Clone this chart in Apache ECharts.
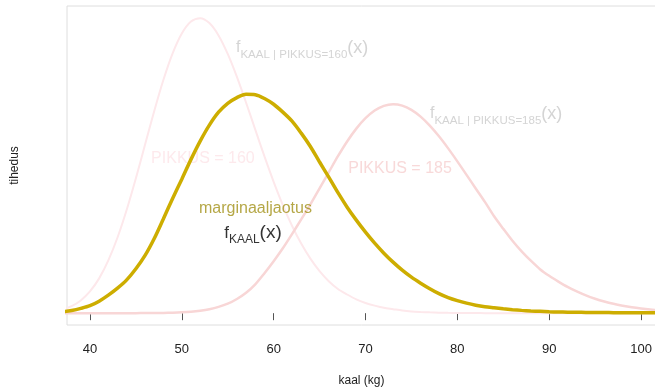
<!DOCTYPE html>
<html>
<head>
<meta charset="utf-8">
<script src="https://cdn.jsdelivr.net/npm/echarts@6/dist/echarts.min.js"></script>
<style>
html,body{margin:0;padding:0;background:#fff;}
#chart{width:655px;height:390px;}
</style>
</head>
<body>
<div id="chart"></div>
<script>
// weight grid (kg), 36..102
const xValues = [36,37,38,39,40,41,42,43,44,45,46,47,48,49,50,51,52,53,54,55,56,57,58,59,60,61,62,63,64,65,66,67,68,69,70,71,72,73,74,75,76,77,78,79,80,81,82,83,84,85,86,87,88,89,90,91,92,93,94,95,96,97,98,99,100,101,102];
// conditional density, PIKKUS = 160
const dens160 = [0.00039,0.00081,0.00158,0.00287,0.00489,0.00783,0.01186,0.01702,0.02326,0.03035,0.03792,0.04548,0.05250,0.05845,0.06292,0.06560,0.06637,0.06526,0.06248,0.05831,0.05314,0.04734,0.04128,0.03526,0.02955,0.02432,0.01967,0.01565,0.01226,0.00946,0.00720,0.00545,0.00420,0.00310,0.00230,0.00170,0.00120,0.00090,0.00060,0.00040,0.00028,0.00019,0.00012,0.00008,0.00005,0.00003,0.00002,0.00001,0,0,0,0,0,0,0,0,0,0,0,0,0,0,0,0,0,0,0];
// conditional density, PIKKUS = 185
const dens185 = [0,0,0,0,0,0,0,0,0,0.00001,0.00002,0.00003,0.00005,0.00010,0.00019,0.00033,0.00056,0.00090,0.00141,0.00213,0.00320,0.00460,0.00650,0.00900,0.01170,0.01460,0.01780,0.02110,0.02450,0.02810,0.03170,0.03531,0.03863,0.04152,0.04386,0.04558,0.04664,0.04700,0.04669,0.04574,0.04422,0.04220,0.03979,0.03707,0.03415,0.03112,0.02806,0.02504,0.02180,0.01900,0.01630,0.01390,0.01180,0.00990,0.00840,0.00710,0.00590,0.00490,0.00400,0.00325,0.00262,0.00210,0.00168,0.00133,0.00105,0.00082,0.00064];
// marginal density of KAAL
const densMarg = [0.00011,0.00029,0.00061,0.00108,0.00169,0.00270,0.00405,0.00563,0.00750,0.01000,0.01300,0.01680,0.02125,0.02580,0.03015,0.03460,0.03870,0.04230,0.04520,0.04720,0.04850,0.04925,0.04915,0.04830,0.04700,0.04523,0.04320,0.04050,0.03750,0.03400,0.03060,0.02710,0.02385,0.02093,0.01823,0.01575,0.01350,0.01148,0.00968,0.00810,0.00675,0.00551,0.00439,0.00349,0.00281,0.00225,0.00180,0.00146,0.00122,0.00099,0.00079,0.00063,0.00050,0.00041,0.00032,0.00027,0.00023,0.00020,0.00018,0.00016,0.00014,0.00012,0.00011,0.00010,0.00009,0.00008,0.00007];
const xTicks = [40,50,60,70,80,90,100];

const toPairs = arr => xValues.map((x, i) => [x, arr[i]]);
const FONT = '"Liberation Sans", Arial, sans-serif';

const chart = echarts.init(document.getElementById('chart'), null, {renderer: 'canvas'});

function annot(x, y, formatter, labelStyle, position) {
  return Object.assign({
    type: 'scatter', symbolSize: 0, silent: true, z: 3,
    data: [[x, y]],
    emphasis: {disabled: true}
  }, {label: Object.assign({show: true, position: position, distance: 0, formatter: formatter}, labelStyle)});
}

const grayRich = {
  f: {fontFamily: FONT, fontSize: 16, color: '#c9c9c9', verticalAlign: 'middle', lineHeight: 20},
  s: {fontFamily: FONT, fontSize: 11.5, color: '#c9c9c9', verticalAlign: 'bottom', lineHeight: 11, padding: [0,0,-3,0]},
  p: {fontFamily: FONT, fontSize: 18, color: '#c9c9c9', verticalAlign: 'middle', lineHeight: 20}
};
const blackRich = {
  f: {fontFamily: FONT, fontSize: 17, color: '#000', verticalAlign: 'middle', lineHeight: 20},
  s: {fontFamily: FONT, fontSize: 12, color: '#000', verticalAlign: 'bottom', lineHeight: 12, padding: [0,0,-3,0]},
  p: {fontFamily: FONT, fontSize: 19, color: '#000', verticalAlign: 'middle', lineHeight: 20}
};

chart.setOption({
  animation: false,
  backgroundColor: '#ffffff',
  grid: {left: 67, top: 6, right: -1, bottom: 65, outerBoundsMode: 'none', containLabel: false,
         show: true, borderColor: '#dedede', borderWidth: 1, backgroundColor: 'transparent'},
  xAxis: {
    type: 'value', min: 37.5, max: 101.63,
    name: 'kaal (kg)', nameLocation: 'middle', nameGap: 50,
    nameTextStyle: {fontFamily: FONT, fontSize: 12, color: '#222'},
    axisLine: {show: false},
    axisTick: {show: true, customValues: xTicks, length: 7, lineStyle: {color: '#555', width: 1}},
    axisLabel: {customValues: xTicks, margin: 18, fontFamily: FONT, fontSize: 13, color: '#222'},
    splitLine: {show: false}
  },
  yAxis: {
    type: 'value', min: -0.00266, max: 0.0691,
    name: 'tihedus', nameLocation: 'middle', nameGap: 46, nameRotate: 90,
    nameTextStyle: {fontFamily: FONT, fontSize: 12, color: '#222'},
    axisLine: {show: false}, axisTick: {show: false}, axisLabel: {show: false}, splitLine: {show: false}
  },
  series: [
    {type: 'line', data: toPairs(dens160), smooth: 0.3, showSymbol: false, clip: true, z: 2,
     lineStyle: {color: '#fde8eb', width: 2}},
    {type: 'line', data: toPairs(dens185), smooth: 0.3, showSymbol: false, clip: true, z: 2,
     lineStyle: {color: '#f8d6d6', width: 2.5}},
    annot(52.3, 0.0347, 'PIKKUS = 160', {fontFamily: FONT, fontSize: 16, color: '#fde3e7'}, 'inside'),
    annot(73.76, 0.0326, 'PIKKUS = 185', {fontFamily: FONT, fontSize: 16, color: '#f6cfcf'}, 'inside'),
    annot(55.9, 0.0597, '{f|f}{s|KAAL | PIKKUS=160}{p|(x)}', {rich: grayRich}, 'right'),
    annot(77.02, 0.0449, '{f|f}{s|KAAL | PIKKUS=185}{p|(x)}', {rich: grayRich}, 'right'),
    annot(58.02, 0.02345, 'marginaaljaotus', {fontFamily: FONT, fontSize: 16, color: '#a39118'}, 'inside'),
    annot(57.75, 0.01805, '{f|f}{s|KAAL}{p|(x)}', {rich: blackRich}, 'inside'),
    {type: 'line', data: toPairs(densMarg), smooth: 0.3, showSymbol: false, clip: true, z: 5,
     lineStyle: {color: '#CDAD00', width: 3.5}}
  ]
});
</script>
</body>
</html>
